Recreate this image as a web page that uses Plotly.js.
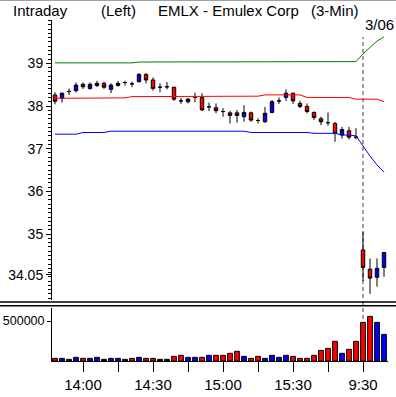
<!DOCTYPE html>
<html>
<head>
<meta charset="utf-8">
<script src="https://cdn.plot.ly/plotly-3.0.1.min.js"></script>
<style>html,body{margin:0;padding:0;background:#fff;}#chart{width:396px;height:397px;}</style>
</head>
<body>
<div id="chart"></div>
<script>
const times = ['13:48','13:51','13:54','13:57','14:00','14:03','14:06','14:09','14:12','14:15','14:18','14:21','14:24','14:27','14:30','14:33','14:36','14:39','14:42','14:45','14:48','14:51','14:54','14:57','15:00','15:03','15:06','15:09','15:12','15:15','15:18','15:21','15:24','15:27','15:30','15:33','15:36','15:39','15:42','15:45','15:48','15:51','15:54','15:57','9:30','9:33','9:36','9:39'];
const openP  = [38.26,38.18,38.34,38.36,38.51,38.41,38.48,38.53,38.39,38.48,38.55,38.52,38.57,38.74,38.61,38.44,38.45,38.44,38.12,38.10,38.20,38.20,37.98,37.96,37.87,37.84,37.84,37.75,37.84,37.66,37.63,37.85,38.12,38.20,38.30,38.06,37.99,37.85,37.70,37.61,37.59,37.32,37.42,37.27,34.63,34.18,33.99,34.22];
const highP  = [38.32,38.31,38.41,38.55,38.55,38.55,38.59,38.57,38.53,38.59,38.59,38.57,38.77,38.77,38.67,38.53,38.56,38.45,38.19,38.19,38.31,38.30,38.08,38.06,37.95,37.89,37.91,38.02,37.87,37.71,37.98,38.14,38.20,38.39,38.31,38.12,38.06,37.87,37.75,37.85,37.63,37.51,37.51,37.48,35.05,34.43,34.43,34.57];
const lowP   = [38.04,38.08,38.26,38.32,38.40,38.38,38.44,38.40,38.30,38.45,38.48,38.44,38.55,38.53,38.36,38.32,38.39,38.12,38.05,38.06,38.09,37.88,37.88,37.83,37.75,37.59,37.61,37.63,37.63,37.59,37.61,37.83,38.05,38.12,38.05,37.95,37.83,37.67,37.55,37.54,37.16,37.24,37.22,37.22,33.90,33.60,33.77,34.00];
const closeP = [38.11,38.30,38.34,38.49,38.45,38.51,38.53,38.44,38.49,38.53,38.55,38.52,38.74,38.61,38.41,38.44,38.45,38.16,38.12,38.16,38.20,37.91,37.98,37.89,37.87,37.78,37.78,37.85,37.67,37.66,37.83,38.10,38.12,38.30,38.12,37.99,37.87,37.73,37.63,37.61,37.36,37.45,37.27,37.27,34.22,33.97,34.20,34.57];
const upperBand = [39.01,39.01,39.01,39.01,39.01,39.01,39.01,39.01,39.01,39.01,39.01,39.01,39.03,39.03,39.03,39.03,39.03,39.03,39.03,39.03,39.03,39.03,39.03,39.03,39.03,39.03,39.03,39.03,39.03,39.03,39.03,39.03,39.03,39.03,39.03,39.03,39.03,39.03,39.03,39.03,39.03,39.03,39.03,39.04,39.22,39.38,39.52,39.62];
const midBand   = [38.18,38.18,38.18,38.18,38.19,38.19,38.19,38.19,38.19,38.19,38.19,38.22,38.22,38.22,38.22,38.22,38.22,38.22,38.22,38.22,38.22,38.23,38.23,38.23,38.23,38.23,38.23,38.23,38.23,38.23,38.26,38.26,38.26,38.26,38.26,38.26,38.20,38.20,38.20,38.20,38.20,38.20,38.20,38.16,38.16,38.16,38.16,38.10];
const lowerBand = [37.34,37.34,37.34,37.34,37.38,37.38,37.38,37.38,37.41,37.41,37.41,37.41,37.41,37.41,37.41,37.41,37.41,37.41,37.41,37.41,37.41,37.41,37.41,37.41,37.41,37.41,37.41,37.41,37.38,37.38,37.38,37.38,37.38,37.38,37.38,37.38,37.38,37.36,37.36,37.36,37.36,37.32,37.32,37.30,37.06,36.83,36.62,36.45];
const volume = [33000,33000,21000,46000,33000,33000,46000,21000,33000,33000,21000,33000,46000,33000,33000,21000,21000,58000,71000,46000,46000,46000,71000,71000,71000,96000,121000,58000,33000,58000,33000,71000,46000,71000,58000,33000,33000,71000,133000,158000,246000,96000,146000,246000,483000,558000,483000,333000];
const volDir = ['d','u','f','u','d','u','u','f','u','u','f','d','u','d','d','f','f','d','d','u','u','d','u','d','d','d','d','u','d','d','u','u','u','u','d','d','d','d','d','d','d','u','d','d','d','d','u','u'];
const priceTicks = [39,38,37,36,35,34.05];
const priceTickText = ['39','38','37','36','35','34.05'];
const timeTicks = ['14:00','14:15','14:30','14:45','15:00','15:15','15:30','15:45','9:30'];
const timeTickText = ['14:00','','14:30','','15:00','','15:30','','9:30'];

const FONT = 'Liberation Sans, Arial, sans-serif';
const W = 396, H = 397;
const px = v => v / W;
const py = v => 1 - v / H;
const dirColor = {u:'#0000ff', d:'#ff0000', f:'#000000'};

const traces = [
  {type:'scatter', mode:'lines', x:times, y:upperBand, line:{color:'#008000', width:1}, xaxis:'x', yaxis:'y', hoverinfo:'skip'},
  {type:'scatter', mode:'lines', x:times, y:midBand, line:{color:'#ff0000', width:1}, xaxis:'x', yaxis:'y', hoverinfo:'skip'},
  {type:'scatter', mode:'lines', x:times, y:lowerBand, line:{color:'#0000ff', width:1}, xaxis:'x', yaxis:'y', hoverinfo:'skip'},
  {type:'candlestick', x:times, open:openP, high:highP, low:lowP, close:closeP, xaxis:'x', yaxis:'y',
   increasing:{line:{color:'#000000', width:1}, fillcolor:'#0000ff'},
   decreasing:{line:{color:'#000000', width:1}, fillcolor:'#ff0000'}, whiskerwidth:0},
  {type:'bar', x:times, y:volume, xaxis:'x', yaxis:'y2', width:0.68,
   marker:{color:volDir.map(d => dirColor[d]), line:{color:'#000000', width:1}}}
];

const layout = {
  width:W, height:H, margin:{l:0,r:0,t:0,b:0},
  paper_bgcolor:'#ffffff', plot_bgcolor:'#ffffff', showlegend:false,
  font:{family:FONT, size:15, color:'#000000'},
  boxgap:0.3,
  xaxis:{type:'category', domain:[px(52), px(388)], range:[-0.43, 47.57], anchor:'y2',
    showline:true, linecolor:'#000', linewidth:1, ticks:'outside', ticklen:10, tickcolor:'#000', tickwidth:1,
    tickmode:'array', tickvals:timeTicks, ticktext:timeTickText, showgrid:false, zeroline:false,
    rangeslider:{visible:false}, tickfont:{family:FONT, size:15}, ticklabelstandoff:0},
  yaxis:{domain:[py(300), py(20)], range:[33.457, 40.014], anchor:'x',
    showline:true, linecolor:'#000', linewidth:1, ticks:'outside', ticklen:5, tickcolor:'#000',
    tickmode:'array', tickvals:priceTicks, ticktext:priceTickText, showgrid:false, zeroline:false,
    tickfont:{family:FONT, size:14}, ticklabelstandoff:0,
    minor:{tickmode:'linear', tick0:0, dtick:0.1, ticks:'outside', ticklen:3, tickcolor:'#000', showgrid:false}},
  yaxis2:{domain:[py(361), py(308)], range:[0, 662500], anchor:'x',
    showline:true, linecolor:'#000', linewidth:1, ticks:'outside', ticklen:4, tickcolor:'#000',
    tickmode:'array', tickvals:[500000], ticktext:['500000'], showgrid:false, zeroline:false,
    tickfont:{family:FONT, size:12.5}, ticklabelstandoff:0},
  shapes:[
    {type:'line', xref:'paper', yref:'paper', x0:0, x1:1, y0:py(0.5), y1:py(0.5), line:{color:'#a0a0a0', width:1}},
    {type:'line', xref:'paper', yref:'paper', x0:0, x1:1, y0:py(302), y1:py(302), line:{color:'#000', width:1.5}},
    {type:'line', xref:'paper', yref:'paper', x0:0, x1:1, y0:py(305.8), y1:py(305.8), line:{color:'#000', width:1.5}},
    {type:'line', xref:'x', yref:'paper', x0:'9:30', x1:'9:30', y0:py(361), y1:py(37), layer:'below',
     line:{color:'#808080', width:1.5, dash:'4px,3px'}}
  ],
  annotations:[
    {xref:'paper', yref:'paper', x:px(11), y:py(11), xanchor:'left', yanchor:'middle', showarrow:false, text:'Intraday', font:{family:FONT, size:15}},
    {xref:'paper', yref:'paper', x:px(99), y:py(11), xanchor:'left', yanchor:'middle', showarrow:false, text:'(Left)', font:{family:FONT, size:15}},
    {xref:'paper', yref:'paper', x:px(156), y:py(11), xanchor:'left', yanchor:'middle', showarrow:false, text:'EMLX - Emulex Corp', font:{family:FONT, size:15}},
    {xref:'paper', yref:'paper', x:px(309), y:py(11), xanchor:'left', yanchor:'middle', showarrow:false, text:'(3-Min)', font:{family:FONT, size:15}},
    {xref:'paper', yref:'paper', x:px(396), y:py(25), xanchor:'right', yanchor:'middle', showarrow:false, text:'3/06', font:{family:FONT, size:15}}
  ]
};

Plotly.newPlot('chart', traces, layout, {staticPlot:true, displayModeBar:false});
</script>
</body>
</html>
